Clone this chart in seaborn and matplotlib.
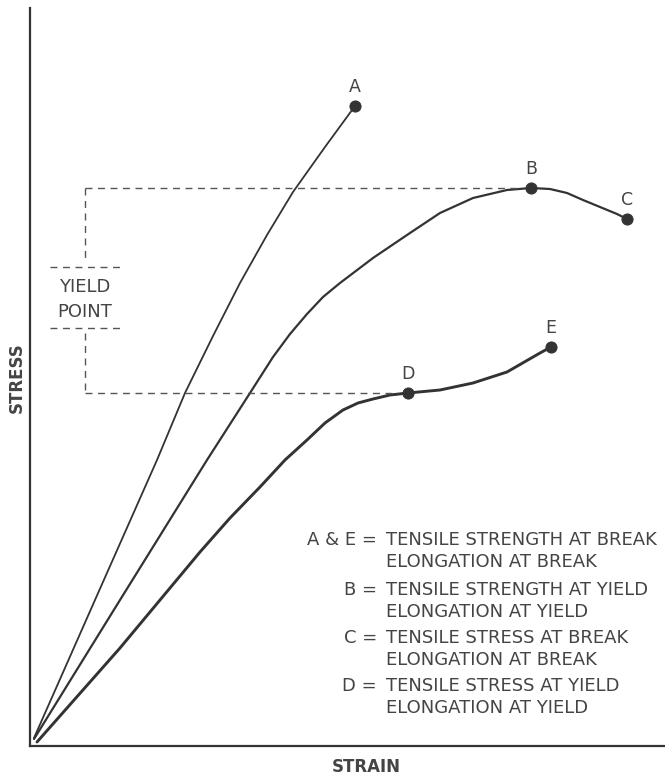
import numpy as np
import pandas as pd
import matplotlib
matplotlib.use("Agg")
import matplotlib.pyplot as plt
import seaborn as sns

# curve readings (strain, stress) in arbitrary units
a_strain = [4, 65, 127, 155, 183, 210, 237, 263, 295, 325]
a_stress = [8, 146, 286, 353, 410, 463, 511, 554, 599, 640]

b_strain = [4, 90, 177, 220, 243, 260, 277, 293, 310, 343, 377, 410, 443, 477, 501, 520, 537, 553, 570, 587, 597]
b_stress = [7, 146, 286, 353, 389, 412, 432, 449, 463, 488, 511, 533, 548, 556, 558, 557, 553, 546, 539, 532, 527]

d_strain = [7, 90, 170, 200, 230, 255, 277, 295, 313, 328, 343, 360, 378, 410, 443, 477, 510, 521]
d_stress = [4, 98, 194, 228, 259, 286, 306, 323, 336, 343, 347, 351, 353, 356, 363, 374, 393, 399]

pt_labels = ["A", "B", "C", "D", "E"]
pt_strain = [325, 501, 597, 378, 521]
pt_stress = [640, 558, 527, 353, 399]

yield_hi = 558   # stress at B
yield_lo = 353   # stress at D

keys = ["A & E =", "B =", "C =", "D ="]
desc = [("TENSILE STRENGTH AT BREAK", "ELONGATION AT BREAK"),
        ("TENSILE STRENGTH AT YIELD", "ELONGATION AT YIELD"),
        ("TENSILE STRESS AT BREAK", "ELONGATION AT BREAK"),
        ("TENSILE STRESS AT YIELD", "ELONGATION AT YIELD")]

sns.set_style("white")
plt.rcParams['font.family'] = ['DejaVu Sans']

fig = plt.figure(figsize=(6.65, 7.8), dpi=100)
ax = fig.add_axes([30 / 665, 34 / 780, 635 / 665, 738 / 780])

curve_df = pd.concat([
    pd.DataFrame({"curve": "A", "strain": a_strain, "stress": a_stress}),
    pd.DataFrame({"curve": "B", "strain": b_strain, "stress": b_stress}),
    pd.DataFrame({"curve": "D", "strain": d_strain, "stress": d_stress}),
])
widths = {"A": 1.3, "B": 1.6, "D": 2.1}
for name, grp in curve_df.groupby("curve"):
    sns.lineplot(x="strain", y="stress", data=grp, sort=False, estimator=None,
                 color="#333333", linewidth=widths[name], ax=ax)

pts = pd.DataFrame({"label": pt_labels, "strain": pt_strain, "stress": pt_stress})
sns.scatterplot(x="strain", y="stress", data=pts, color="#333333", s=65,
                edgecolor="#333333", zorder=5, ax=ax)
for _, r in pts.iterrows():
    ax.text(r["strain"], r["stress"] + 19, r["label"], ha="center", va="center",
            fontsize=12.5, color="#444444")

# yield point dashed guides
dash = dict(color="#555555", linewidth=1.0, linestyle=(0, (5, 4)))
ax.plot([55, 490], [yield_hi, yield_hi], **dash)
ax.plot([55, 368], [yield_lo, yield_lo], **dash)
ax.plot([55, 55], [yield_hi, 486], **dash)
ax.plot([55, 55], [413, yield_lo], **dash)
ax.plot([20, 90], [479, 479], **dash)
ax.plot([20, 90], [418, 418], **dash)
ax.text(55, 459, "YIELD", ha="center", va="center", fontsize=13, color="#444444")
ax.text(55, 434, "POINT", ha="center", va="center", fontsize=13, color="#444444")

# definitions block
row_y = [206, 156, 108, 60]
for k, (l1, l2), y in zip(keys, desc, row_y):
    ax.text(347, y, k, ha="right", va="center", fontsize=13, color="#444444")
    ax.text(356, y, l1, ha="left", va="center", fontsize=13, color="#444444")
    ax.text(356, y - 22, l2, ha="left", va="center", fontsize=13, color="#444444")

ax.set_xlim(0, 635)
ax.set_ylim(0, 738)
ax.set_xticks([])
ax.set_yticks([])
ax.set_xlabel("")
ax.set_ylabel("")
sns.despine(ax=ax, top=True, right=True)
for s in ["left", "bottom"]:
    ax.spines[s].set_color("#333333")
    ax.spines[s].set_linewidth(1.6)

fig.text(17 / 665, 1 - 378 / 780, "STRESS", rotation=90, ha="center", va="center",
         fontsize=12, fontweight="bold", color="#444444")
fig.text(366 / 665, 1 - 767 / 780, "STRAIN", ha="center", va="center",
         fontsize=12, fontweight="bold", color="#444444")

fig.savefig("out.png", dpi=100, facecolor="white")
